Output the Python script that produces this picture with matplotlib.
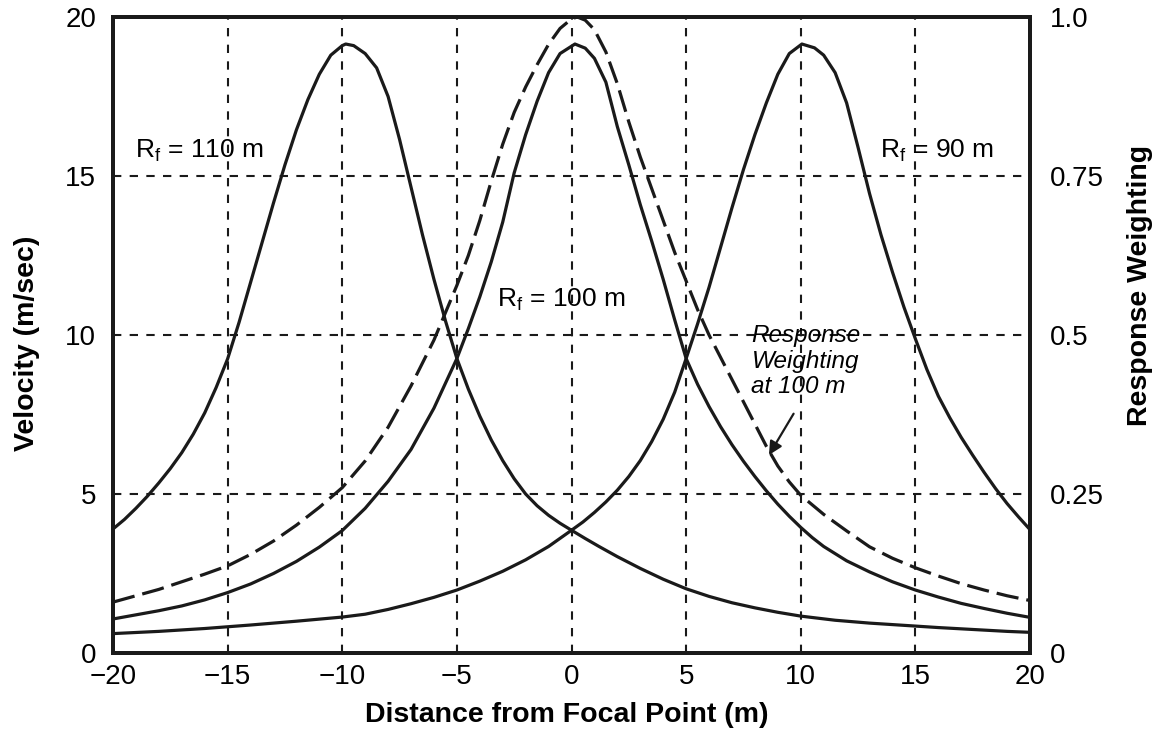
import matplotlib.pyplot as plt

plt.rcParams['font.family'] = ['Liberation Sans', 'DejaVu Sans']
plt.rcParams['mathtext.fontset'] = 'custom'
plt.rcParams['mathtext.rm'] = 'Liberation Sans'

# R_f = 110 m curve (left peak)
x110 = [-20, -19.5, -19, -18.5, -18, -17.5, -17, -16.5, -16, -15.5, -15, -14.5, -14, -13.5,
        -13, -12.5, -12, -11.5, -11, -10.5, -10, -9.85, -9.5, -9, -8.5, -8, -7.5, -7, -6.5,
        -6, -5.5, -5, -4.5, -4, -3.5, -3, -2.5, -2, -1.5, -1, -0.5, 0, 0.6, 1.2, 2, 3, 4, 5,
        6, 7, 8, 9, 10, 11.5, 13, 14.5, 16, 17.5, 19, 20]
v110 = [3.9, 4.2, 4.55, 4.93, 5.35, 5.8, 6.3, 6.88, 7.55, 8.35, 9.25, 10.4, 11.65, 12.9,
        14.15, 15.35, 16.45, 17.4, 18.2, 18.8, 19.1, 19.15, 19.1, 18.85, 18.4, 17.5, 16.15, 14.65, 13.15,
        11.75, 10.45, 9.26, 8.3, 7.45, 6.7, 6.05, 5.48, 5.0, 4.63, 4.33, 4.08, 3.86, 3.6, 3.35, 3.03, 2.66, 2.32, 2.02,
        1.78, 1.58, 1.42, 1.28, 1.16, 1.03, 0.94, 0.87, 0.8, 0.74, 0.68, 0.65]

# R_f = 100 m curve (centre peak)
x100 = [-20, -19, -18, -17, -16, -15, -14, -13, -12, -11, -10, -9, -8, -7, -6, -5, -4.5, -4,
        -3.5, -3, -2.5, -2, -1.5, -1, -0.5, 0.15, 0.6, 1, 1.5, 2, 2.5, 3, 3.5, 4, 4.5, 5, 5.5,
        6, 6.5, 7, 7.5, 8, 8.5, 9, 9.5, 10, 10.5, 11, 12, 13, 14, 15, 16, 17, 18, 19, 20]
v100 = [1.07, 1.2, 1.33, 1.48, 1.67, 1.9, 2.17, 2.5, 2.88, 3.33, 3.85, 4.55, 5.4, 6.4, 7.7, 9.26, 10.2, 11.2,
        12.3, 13.55, 15.1, 16.3, 17.35, 18.25, 18.85, 19.15, 19.02, 18.7, 17.95, 16.55, 15.35, 14.1, 12.95, 11.75, 10.48, 9.26, 8.45,
        7.75, 7.12, 6.55, 6.03, 5.55, 5.1, 4.68, 4.3, 3.95, 3.63, 3.35, 2.9, 2.55, 2.24, 1.98, 1.76, 1.56, 1.4, 1.25, 1.12]

# R_f = 90 m curve (right peak)
x90 = [-20, -18, -16, -14, -12, -10, -9, -8, -7, -6, -5, -4, -3, -2, -1, 0, 0.5, 1, 1.5, 2,
       2.5, 3, 3.5, 4, 4.5, 5, 5.5, 6, 6.5, 7, 7.5, 8, 8.5, 9, 9.5, 10.05, 10.6, 11, 11.5, 12,
       12.5, 13, 13.5, 14, 14.5, 15, 15.5, 16, 16.5, 17, 17.5, 18, 18.5, 19, 19.5, 20]
v90 = [0.61, 0.68, 0.77, 0.88, 1.0, 1.13, 1.22, 1.37, 1.55, 1.75, 1.98, 2.26, 2.57, 2.93, 3.35, 3.86, 4.12, 4.42, 4.75, 5.12,
       5.55, 6.05, 6.65, 7.35, 8.2, 9.26, 10.35, 11.5, 12.75, 14.0, 15.2, 16.3, 17.3, 18.2, 18.85, 19.15, 19.03, 18.8, 18.25, 17.3,
       15.9, 14.45, 13.15, 11.98, 10.88, 9.88, 8.92, 8.08, 7.4, 6.78, 6.22, 5.68, 5.17, 4.7, 4.28, 3.88]

# response weighting at 100 m (right axis)
xw = [-20, -19, -18, -17, -16, -15, -14, -13, -12, -11, -10, -9, -8, -7, -6, -5.5, -5, -4.5,
      -4, -3.5, -3, -2.5, -2, -1.5, -1, -0.5, 0, 0.25, 0.6, 1, 1.5, 2, 2.5, 3, 3.5, 4, 4.5, 5,
      5.5, 6, 6.5, 7, 7.5, 8, 8.5, 9, 9.5, 10, 11, 12, 13, 14, 15, 16, 17, 18, 19, 20]
wt = [0.080, 0.090, 0.100, 0.112, 0.124, 0.137, 0.155, 0.176, 0.201, 0.229, 0.26, 0.302, 0.355, 0.42, 0.492, 0.535, 0.578, 0.625,
      0.68, 0.742, 0.80, 0.85, 0.89, 0.925, 0.957, 0.982, 0.997, 1.0, 0.995, 0.98, 0.945, 0.895, 0.835, 0.78, 0.73, 0.68, 0.63, 0.585,
      0.54, 0.50, 0.465, 0.43, 0.395, 0.36, 0.325, 0.294, 0.269, 0.248, 0.218, 0.192, 0.167, 0.149, 0.134, 0.121, 0.109, 0.099, 0.09, 0.0825]

xticks = [-20, -15, -10, -5, 0, 5, 10, 15, 20]
vticks = [0, 5, 10, 15, 20]
wticks = [0, 0.25, 0.5, 0.75, 1.0]
wlabels = ['0', '0.25', '0.5', '0.75', '1.0']

fig = plt.figure(figsize=(11.62, 7.31), dpi=100)
ax = fig.add_axes([113 / 1162, 1 - 653 / 731, 917 / 1162, 636 / 731])

ink = '#1a1a1a'
lw = 2.3
ax.plot(x110, v110, color=ink, lw=lw)
ax.plot(x100, v100, color=ink, lw=lw)
ax.plot(x90, v90, color=ink, lw=lw)

ax.set_xlim(-20, 20)
ax.set_ylim(0, 20)
ax.set_xticks(xticks)
ax.set_yticks(vticks)
ax.tick_params(length=0, labelsize=20, pad=8)
ax.tick_params(axis='y', pad=12)
ax.grid(True, color=ink, lw=1.5, linestyle=(0, (4, 4)))
for s in ax.spines.values():
    s.set_linewidth(2.8)
    s.set_color(ink)

ax2 = ax.twinx()
ax2.plot(xw, wt, color=ink, lw=lw, linestyle=(0, (7, 2.5)))
ax2.set_ylim(0, 1)
ax2.set_yticks(wticks)
ax2.set_yticklabels(wlabels)
ax2.tick_params(length=0, labelsize=20, pad=14)
for s in ax2.spines.values():
    s.set_linewidth(2.8)
    s.set_color(ink)

# axis titles
fig.text(567 / 1162, 1 - 715 / 731, 'Distance from Focal Point (m)', ha='center', va='center',
         fontsize=20.5, fontweight='bold')
fig.text(27 / 1162, 1 - 343 / 731, 'Velocity (m/sec)', ha='center', va='center',
         rotation=90, fontsize=20.5, fontweight='bold')
fig.text(1140 / 1162, 1 - 285 / 731, 'Response Weighting', ha='center', va='center',
         rotation=90, fontsize=20.5, fontweight='bold')

# annotations
ax.text(-19.05, 15.8, r'R$_\mathregular{f}$ = 110 m', fontsize=19, va='center', ha='left')
ax.text(-3.25, 11.1, r'R$_\mathregular{f}$ = 100 m', fontsize=19, va='center', ha='left')
ax.text(13.45, 15.8, r'R$_\mathregular{f}$ = 90 m', fontsize=19, va='center', ha='left')
ax.text(7.85, 10.35, 'Response\nWeighting\nat 100 m', fontsize=17.5, style='italic',
        va='top', ha='left', linespacing=1.15)
ax.annotate('', xy=(8.55, 6.15), xytext=(9.75, 7.6),
            arrowprops=dict(arrowstyle='-|>', color=ink, lw=1.6, mutation_scale=20))

fig.savefig('out.png', dpi=100)
